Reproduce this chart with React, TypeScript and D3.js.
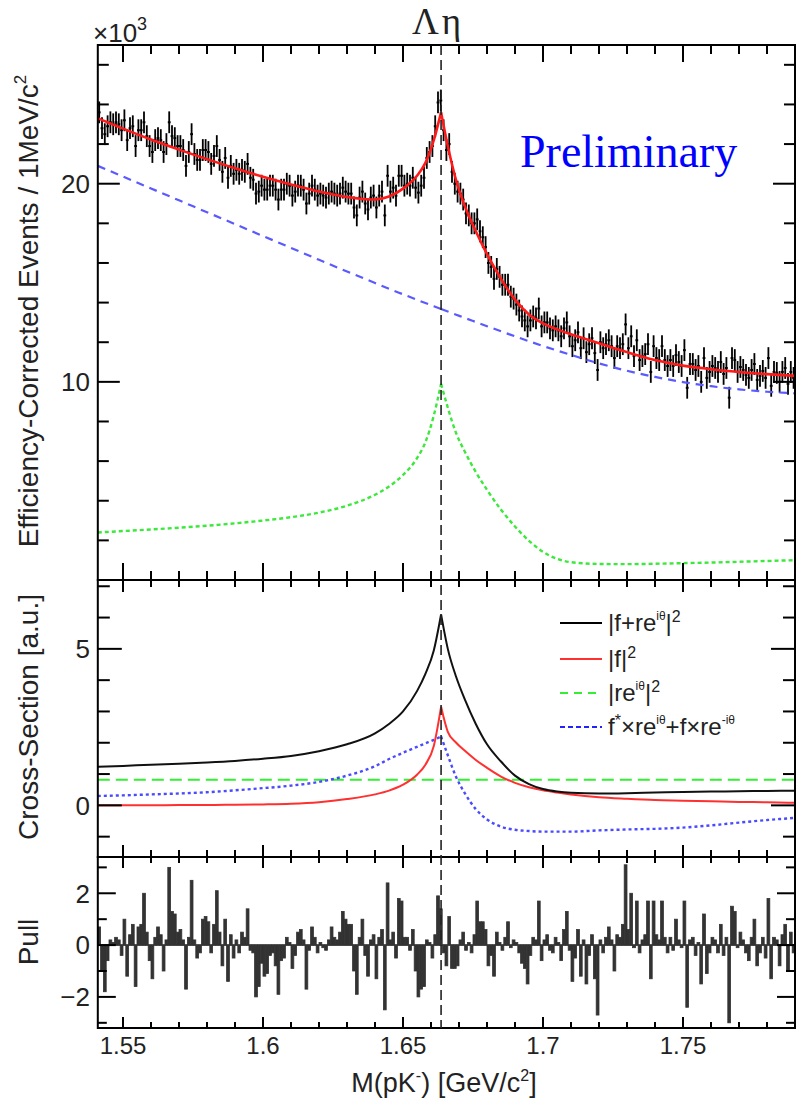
import React, { useEffect, useRef } from 'react';
import * as d3 from 'd3';

// 1 MeV bins of M(pK-) from 1.541 to 1.790 GeV
const binStart = 1.541;
const binWidth = 0.001;
const xMin = 1.541;
const xMax = 1.79;
const threshold = 1.6636;

// efficiency-corrected events per bin, in units of 10^3
const dataValues = [
  23.6, 22.8, 22.5, 22.9, 23.1, 23.0, 23.1, 23.0, 22.7, 23.2,
  22.2, 22.8, 22.9, 21.9, 22.7, 22.7, 23.1, 22.4, 21.9, 21.6,
  22.2, 22.3, 22.2, 21.6, 22.0, 23.1, 22.4, 22.3, 21.9, 21.9,
  21.7, 20.9, 21.6, 22.5, 21.5, 21.2, 21.2, 21.7, 21.7, 21.6,
  21.0, 21.4, 21.9, 21.2, 20.6, 21.3, 20.3, 20.9, 20.5, 20.7,
  20.5, 20.7, 20.6, 21.0, 20.3, 20.2, 19.5, 19.6, 19.9, 19.7,
  19.7, 19.9, 19.9, 19.7, 19.2, 19.7, 19.7, 20.0, 19.9, 19.4,
  19.6, 19.9, 19.9, 19.7, 19.0, 19.5, 19.9, 19.7, 19.4, 19.5,
  19.4, 19.3, 19.5, 19.6, 19.5, 19.4, 19.5, 19.8, 19.6, 19.5,
  19.5, 18.8, 18.4, 19.3, 19.6, 19.0, 18.7, 19.3, 19.4, 18.8,
  19.4, 19.6, 18.4, 20.4, 19.6, 19.8, 19.4, 20.4, 20.4, 19.9,
  20.0, 19.9, 20.3, 19.8, 19.55, 19.9, 20.3, 21.3, 21.6, 21.9,
  22.9, 24.1, 24.2, 22.7, 21.7, 22.0, 20.6, 20.0, 19.6, 19.5,
  19.2, 18.5, 18.4, 18.0, 18.0, 18.2, 17.6, 17.3, 16.8, 16.0,
  15.8, 15.2, 15.7, 15.3, 14.9, 14.9, 14.9, 14.3, 14.2, 13.9,
  13.6, 13.3, 13.1, 12.8, 13.1, 13.3, 13.2, 13.7, 12.8, 13.0,
  13.0, 12.7, 12.6, 12.8, 12.6, 12.3, 12.7, 13.0, 12.3, 11.8,
  12.1, 12.5, 11.7, 12.2, 11.5, 11.9, 12.2, 11.45, 10.6, 12.0,
  11.7, 11.9, 12.1, 11.8, 11.2, 11.8, 11.7, 11.9, 12.9, 11.7,
  12.3, 11.3, 12.1, 11.1, 11.3, 11.4, 11.9, 10.5, 11.8, 11.2,
  11.1, 11.8, 11.1, 10.8, 11.1, 10.8, 11.35, 11.0, 10.8, 11.6,
  9.7, 10.9, 10.9, 10.6, 10.8, 10.0, 11.2, 10.2, 10.5, 10.8,
  10.7, 10.5, 11.0, 10.4, 10.7, 9.2, 11.2, 11.1, 10.5, 10.75,
  10.6, 10.35, 10.2, 10.6, 10.9, 10.1, 10.3, 10.55, 10.2, 11.2,
  9.8, 10.5, 10.45, 10.0, 10.5, 10.7, 9.9, 10.5, 10.2,
];
const dataError = 0.55;

// (data - fit) / error per bin
const pullValues = [
  0.7, -1.0, -1.8, -0.6, 0.2, 0.1, 0.3, 0.2, -0.4, 1.0,
  -1.2, 0.4, 0.8, -1.6, 0.7, 0.8, 2.0, 0.5, -0.6, -1.3,
  0.3, 0.7, 0.4, -1.0, 0.2, 3.0, 1.3, 1.2, 0.5, 0.6,
  0.2, -1.7, 0.3, 2.5, 0.2, -0.5, -0.3, 1.0, 1.1, 0.9,
  -0.3, 0.8, 2.1, 0.5, -0.8, 1.0, -1.4, 0.4, -0.5, 0.2,
  -0.3, 0.5, 0.3, 1.4, -0.2, -0.3, -2.0, -1.6, -0.7, -1.2,
  -1.1, -0.4, -0.3, -0.8, -1.9, -0.6, -0.5, 0.3, 0.1, -0.9,
  -0.4, 0.5, 0.6, 0.2, -1.7, -0.2, 0.7, 0.3, -0.3, 0.1,
  -0.1, -0.2, 0.2, 0.7, 0.3, 0.2, 0.5, 1.3, 1.0, 0.8,
  0.8, -1.0, -1.9, 0.3, 1.0, -0.4, -1.2, 0.2, 0.4, -1.3,
  0.3, 0.6, -2.5, 2.4, 0.2, 0.5, -0.5, 1.8, 1.7, 0.3,
  0.3, -0.2, 0.6, -1.0, -2.0, -1.7, -1.6, 0.2, 0.1, -0.5,
  0.4, 1.9, 1.4, -0.3, -0.8, 1.1, -0.9, -0.9, -0.8, 0.2,
  0.5, -0.2, 0.1, -0.3, 0.4, 1.7, 0.9, 0.9, 0.6, -0.8,
  -0.4, -1.2, 0.5, 0.1, -0.2, 0.3, 0.9, -0.1, 0.2, 0.1,
  -0.3, -0.7, -0.9, -1.5, -0.4, 0.3, 0.2, 1.7, -0.6, 0.2,
  0.4, -0.2, -0.3, 0.3, 0.1, -0.6, 0.6, 1.3, -0.2, -1.4,
  -0.5, 0.6, -1.2, 0.2, -1.5, -0.4, 0.4, -1.3, -2.7, 0.2,
  -0.3, 0.3, 0.7, 0.2, -1.0, 0.4, 0.3, 0.8, 3.1, 0.6,
  2.0, -0.1, 1.7, -0.3, 0.2, 0.4, 1.7, -1.3, 1.7, 0.4,
  0.2, 1.7, 0.3, -0.3, 0.3, -0.2, 1.0, 0.2, -0.1, 1.7,
  -2.4, 0.2, 0.3, -0.4, 0.1, -1.5, 1.2, -1.1, -0.3, 0.3,
  0.2, -0.3, 0.8, -0.4, 0.3, -3.0, 1.5, 1.3, -0.1, 0.5,
  0.2, -0.3, -0.6, 0.3, 1.0, -0.8, -0.3, 0.3, -0.5, 1.8,
  -1.3, 0.3, 0.2, -0.8, 0.4, 0.8, -1.0, 0.5, -0.3,
];

// masses where the fitted curves are sampled
const curveMass = [
  1.541, 1.55, 1.56, 1.57, 1.58, 1.59, 1.6, 1.61, 1.62, 1.63, 1.64, 1.645,
  1.65, 1.655, 1.658, 1.661, 1.6636, 1.666, 1.669, 1.672, 1.676, 1.68,
  1.685, 1.69, 1.695, 1.7, 1.705, 1.71, 1.72, 1.73, 1.74, 1.75, 1.76, 1.77, 1.78, 1.79,
];

// top panel fit (x10^3)
const fitTotal = [
  23.3, 22.78, 22.23, 21.72, 21.24, 20.78, 20.35, 19.96, 19.61, 19.33, 19.2, 19.35,
  19.75, 20.4, 21.05, 22.2, 23.6, 21.9, 20.15, 18.9, 17.6, 16.45,
  15.2, 14.15, 13.4, 12.95, 12.65, 12.4, 11.95, 11.5, 11.1, 10.82, 10.64, 10.5, 10.39, 10.3,
];
const fitBackground = [
  20.9, 20.36, 19.76, 19.16, 18.56, 17.96, 17.36, 16.76, 16.16, 15.57, 14.99, 14.7,
  14.42, 14.14, 13.98, 13.82, 13.68, 13.55, 13.39, 13.23, 13.02, 12.81,
  12.55, 12.3, 12.05, 11.81, 11.58, 11.36, 10.93, 10.56, 10.25, 9.99, 9.78, 9.62, 9.5, 9.42,
];
const fitSignal = [
  2.4, 2.47, 2.55, 2.64, 2.74, 2.86, 3.0, 3.17, 3.4, 3.75, 4.3, 4.72,
  5.3, 6.15, 6.95, 8.3, 9.9, 8.7, 7.4, 6.5, 5.45, 4.55,
  3.55, 2.7, 1.98, 1.42, 1.07, 0.9, 0.81, 0.8, 0.82, 0.85, 0.88, 0.92, 0.96, 1.0,
];

// middle panel cross-section components (a.u.)
const xsTotal = [
  1.23, 1.26, 1.3, 1.33, 1.37, 1.42, 1.49, 1.58, 1.73, 1.95, 2.3, 2.6,
  3.0, 3.65, 4.2, 4.95, 6.1, 5.0, 4.1, 3.4, 2.6, 1.95,
  1.4, 0.95, 0.68, 0.52, 0.44, 0.4, 0.38, 0.39, 0.41, 0.43, 0.44, 0.45, 0.46, 0.47,
];
const xsResonant = [
  0.0, 0.0, 0.0, 0.01, 0.01, 0.02, 0.03, 0.05, 0.1, 0.2, 0.35, 0.47,
  0.66, 0.98, 1.3, 1.9, 3.15, 2.35, 2.0, 1.75, 1.45, 1.2,
  0.92, 0.72, 0.58, 0.48, 0.41, 0.35, 0.26, 0.21, 0.17, 0.15, 0.13, 0.11, 0.1, 0.08,
];
const xsNonResonant = 0.82;
const xsInterference = [
  0.3, 0.32, 0.35, 0.38, 0.42, 0.48, 0.55, 0.63, 0.75, 0.95, 1.25, 1.48,
  1.68, 1.87, 1.98, 2.09, 2.2, 1.6, 0.9, 0.4, -0.12, -0.45,
  -0.68, -0.78, -0.82, -0.84, -0.84, -0.84, -0.8, -0.77, -0.75, -0.71, -0.64, -0.55, -0.47, -0.4,
];

// axis ticks
const xMajorTicks = [1.55, 1.6, 1.65, 1.7, 1.75];
const xMinorTicks = [
  1.56, 1.57, 1.58, 1.59, 1.61, 1.62, 1.63, 1.64, 1.66, 1.67, 1.68, 1.69,
  1.71, 1.72, 1.73, 1.74, 1.76, 1.77, 1.78, 1.79,
];
const xTickLabels = ['1.55', '1.6', '1.65', '1.7', '1.75'];
const topMajor = [10, 20];
const topMinor = [2, 4, 6, 8, 12, 14, 16, 18, 22, 24, 26];
const midMajor = [0, 5];
const midMinor = [-1, 1, 2, 3, 4, 6, 7];
const pullMajor = [-2, 0, 2];
const pullMinor = [-3, -1, 1, 3];

const sans = "'Liberation Sans', Arial, Helvetica, sans-serif";
const serif = "'Liberation Serif', 'Times New Roman', serif";

const App = () => {
  const svgRef = useRef<SVGSVGElement>(null);

  useEffect(() => {
    const svg = d3.select(svgRef.current);
    svg.selectAll('*').remove();

    const left = 97.8;
    const right = 795;
    const x = d3.scaleLinear().domain([xMin, xMax]).range([left, right]);
    const yTop = d3.scaleLinear().domain([0, 27]).range([580, 45]);
    const yMid = d3.scaleLinear().domain([-1.65, 7.2]).range([857, 580]);
    const yPull = d3.scaleLinear().domain([-3.2, 3.4]).range([1028, 857]);

    // curve split at the threshold so the cusp stays sharp
    const drawCurve = (g: any, values: number[], yScale: any, color: string, width: number, dash?: string) => {
      const pts = curveMass.map((m, i) => [m, values[i]] as [number, number]);
      const line = d3.line<[number, number]>()
        .x(d => x(d[0]))
        .y(d => yScale(d[1]))
        .curve(d3.curveMonotoneX);
      [pts.filter(p => p[0] <= threshold), pts.filter(p => p[0] >= threshold)].forEach(seg => {
        g.append('path')
          .attr('d', line(seg))
          .attr('fill', 'none')
          .attr('stroke', color)
          .attr('stroke-width', width)
          .attr('stroke-dasharray', dash || null);
      });
    };

    const drawFrame = (yScale: any, top: number, bottom: number, major: number[], minor: number[],
      t: { xMaj: number; xMin: number; yMaj: number; yMin: number }, labels: string[]) => {
      const g = svg.append('g').attr('stroke', '#000').attr('stroke-width', 2);
      xMajorTicks.forEach(v => {
        g.append('line').attr('x1', x(v)).attr('x2', x(v)).attr('y1', bottom).attr('y2', bottom - t.xMaj);
        g.append('line').attr('x1', x(v)).attr('x2', x(v)).attr('y1', top).attr('y2', top + t.xMaj);
      });
      xMinorTicks.forEach(v => {
        g.append('line').attr('x1', x(v)).attr('x2', x(v)).attr('y1', bottom).attr('y2', bottom - t.xMin);
        g.append('line').attr('x1', x(v)).attr('x2', x(v)).attr('y1', top).attr('y2', top + t.xMin);
      });
      major.forEach(v => {
        g.append('line').attr('x1', left).attr('x2', left + t.yMaj).attr('y1', yScale(v)).attr('y2', yScale(v));
        g.append('line').attr('x1', right).attr('x2', right - t.yMaj).attr('y1', yScale(v)).attr('y2', yScale(v));
      });
      minor.forEach(v => {
        g.append('line').attr('x1', left).attr('x2', left + t.yMin).attr('y1', yScale(v)).attr('y2', yScale(v));
        g.append('line').attr('x1', right).attr('x2', right - t.yMin).attr('y1', yScale(v)).attr('y2', yScale(v));
      });
      g.append('rect')
        .attr('x', left).attr('y', top)
        .attr('width', right - left).attr('height', bottom - top)
        .attr('fill', 'none');
      major.forEach((v, i) => {
        svg.append('text')
          .attr('x', 90).attr('y', yScale(v))
          .attr('dy', '0.36em')
          .attr('text-anchor', 'end')
          .attr('font-family', sans).attr('font-size', 26)
          .attr('fill', '#222')
          .text(labels[i]);
      });
    };

    // ---------- top panel ----------
    const gTop = svg.append('g');
    dataValues.forEach((v, i) => {
      const m = binStart + (i + 0.5) * binWidth;
      gTop.append('line')
        .attr('x1', x(m)).attr('x2', x(m))
        .attr('y1', yTop(v - dataError)).attr('y2', yTop(v + dataError))
        .attr('stroke', '#000').attr('stroke-width', 1.8);
      gTop.append('line')
        .attr('x1', x(m - binWidth / 2)).attr('x2', x(m + binWidth / 2))
        .attr('y1', yTop(v)).attr('y2', yTop(v))
        .attr('stroke', '#000').attr('stroke-width', 2);
    });
    drawCurve(gTop, fitBackground, yTop, '#5a5aff', 2.2, '8,6');
    drawCurve(gTop, fitSignal, yTop, '#3de83d', 2.4, '4,3');
    drawCurve(gTop, fitTotal, yTop, '#ff1a1a', 2.6);
    drawFrame(yTop, 45, 580, topMajor, topMinor, { xMaj: 17, xMin: 9, yMaj: 22, yMin: 11 }, ['10', '20']);

    // ---------- middle panel ----------
    const gMid = svg.append('g');
    gMid.append('line')
      .attr('x1', left).attr('x2', right)
      .attr('y1', yMid(xsNonResonant)).attr('y2', yMid(xsNonResonant))
      .attr('stroke', '#33ee33').attr('stroke-width', 2).attr('stroke-dasharray', '12,6');
    drawCurve(gMid, xsInterference, yMid, '#4a4aff', 2.4, '3,3');
    drawCurve(gMid, xsResonant, yMid, '#ff3030', 2);
    drawCurve(gMid, xsTotal, yMid, '#111', 2);
    drawFrame(yMid, 580, 857, midMajor, midMinor, { xMaj: 12, xMin: 7, yMaj: 24, yMin: 12 }, ['0', '5']);

    // legend
    const legend = [
      { color: '#000', dash: null, y: 623 },
      { color: '#ff3030', dash: null, y: 659 },
      { color: '#33ee33', dash: '8,6', y: 693 },
      { color: '#2222ff', dash: '5,3', y: 727 },
    ];
    legend.forEach(d => {
      svg.append('line')
        .attr('x1', 560).attr('x2', 602).attr('y1', d.y).attr('y2', d.y)
        .attr('stroke', d.color).attr('stroke-width', 2)
        .attr('stroke-dasharray', d.dash);
    });
    const legendText = (y: number, parts: [string, number][]) => {
      const t = svg.append('text')
        .attr('x', 608).attr('y', y)
        .attr('font-family', sans).attr('font-size', 24).attr('fill', '#222');
      let shift = 0;
      parts.forEach(([s, level]) => {
        const target = level === 2 ? -11 : level === 1 ? -9 : 0;
        t.append('tspan')
          .attr('dy', target - shift)
          .attr('font-size', level === 2 ? 12 : level === 1 ? 16 : 24)
          .text(s);
        shift = target;
      });
    };
    legendText(631, [['|f+re', 0], ['iθ', 2], ['|', 0], ['2', 1]]);
    legendText(667, [['|f|', 0], ['2', 1]]);
    legendText(701, [['|re', 0], ['iθ', 2], ['|', 0], ['2', 1]]);
    legendText(735, [['f', 0], ['*', 1], ['×re', 0], ['iθ', 2], ['+f×re', 0], ['-iθ', 2]]);

    // ---------- pull panel ----------
    const gPull = svg.append('g');
    pullValues.forEach((v, i) => {
      const x0 = x(binStart + i * binWidth);
      const x1 = x(binStart + (i + 1) * binWidth);
      gPull.append('rect')
        .attr('x', x0).attr('width', x1 - x0)
        .attr('y', Math.min(yPull(v), yPull(0)))
        .attr('height', Math.abs(yPull(v) - yPull(0)))
        .attr('fill', '#333').attr('stroke', '#333').attr('stroke-width', 0.8);
    });
    gPull.append('line')
      .attr('x1', left).attr('x2', right).attr('y1', yPull(0)).attr('y2', yPull(0))
      .attr('stroke', '#333').attr('stroke-width', 1.5);
    drawFrame(yPull, 857, 1028, pullMajor, pullMinor, { xMaj: 11, xMin: 6, yMaj: 18, yMin: 9 }, ['\u22122', '0', '2']);

    // threshold line across all panels
    svg.append('line')
      .attr('x1', x(threshold)).attr('x2', x(threshold))
      .attr('y1', 45).attr('y2', 1028)
      .attr('stroke', '#222').attr('stroke-width', 1.6)
      .attr('stroke-dasharray', '10,5');

    // x tick labels
    xMajorTicks.forEach((v, i) => {
      svg.append('text')
        .attr('x', x(v)).attr('y', 1054)
        .attr('text-anchor', 'middle')
        .attr('font-family', sans).attr('font-size', 24).attr('fill', '#222')
        .text(xTickLabels[i]);
    });

    // x title
    const xt = svg.append('text')
      .attr('x', 444).attr('y', 1092)
      .attr('text-anchor', 'middle')
      .attr('font-family', sans).attr('font-size', 27).attr('fill', '#222');
    xt.append('tspan').text('M(pK');
    xt.append('tspan').attr('dy', -11).attr('font-size', 16).text('-');
    xt.append('tspan').attr('dy', 11).text(') [GeV/c');
    xt.append('tspan').attr('dy', -11).attr('font-size', 16).text('2');
    xt.append('tspan').attr('dy', 11).text(']');

    // y titles
    const yTitle = (cy: number, parts: [string, boolean][]) => {
      const t = svg.append('text')
        .attr('transform', `translate(38,${cy}) rotate(-90)`)
        .attr('text-anchor', 'middle')
        .attr('font-family', sans).attr('font-size', 28).attr('fill', '#222');
      let up = false;
      parts.forEach(([s, sup]) => {
        t.append('tspan')
          .attr('dy', sup === up ? 0 : sup ? -12 : 12)
          .attr('font-size', sup ? 17 : 28)
          .text(s);
        up = sup;
      });
    };
    yTitle(311, [['Efficiency-Corrected Events / 1MeV/c', false], ['2', true]]);
    yTitle(717, [['Cross-Section [a.u.]', false]]);
    yTitle(942, [['Pull', false]]);

    // exponent
    const ex = svg.append('text')
      .attr('x', 93).attr('y', 42)
      .attr('font-family', sans).attr('font-size', 26).attr('fill', '#222');
    ex.append('tspan').text('×10');
    ex.append('tspan').attr('dy', -12).attr('font-size', 18).text('3');

    // title
    svg.append('text')
      .attr('x', 438).attr('y', 34)
      .attr('text-anchor', 'middle')
      .attr('font-family', serif).attr('font-size', 37).attr('fill', '#222')
      .attr('letter-spacing', 3)
      .text('Λη');

    svg.append('text')
      .attr('x', 520).attr('y', 167)
      .attr('font-family', serif).attr('font-size', 46).attr('fill', '#0000ff')
      .text('Preliminary');
  }, []);

  return (
    <svg ref={svgRef} width={796} height={1100}
      style={{ position: 'absolute', left: 0, top: 0, background: '#fff' }} />
  );
};

export default App;
